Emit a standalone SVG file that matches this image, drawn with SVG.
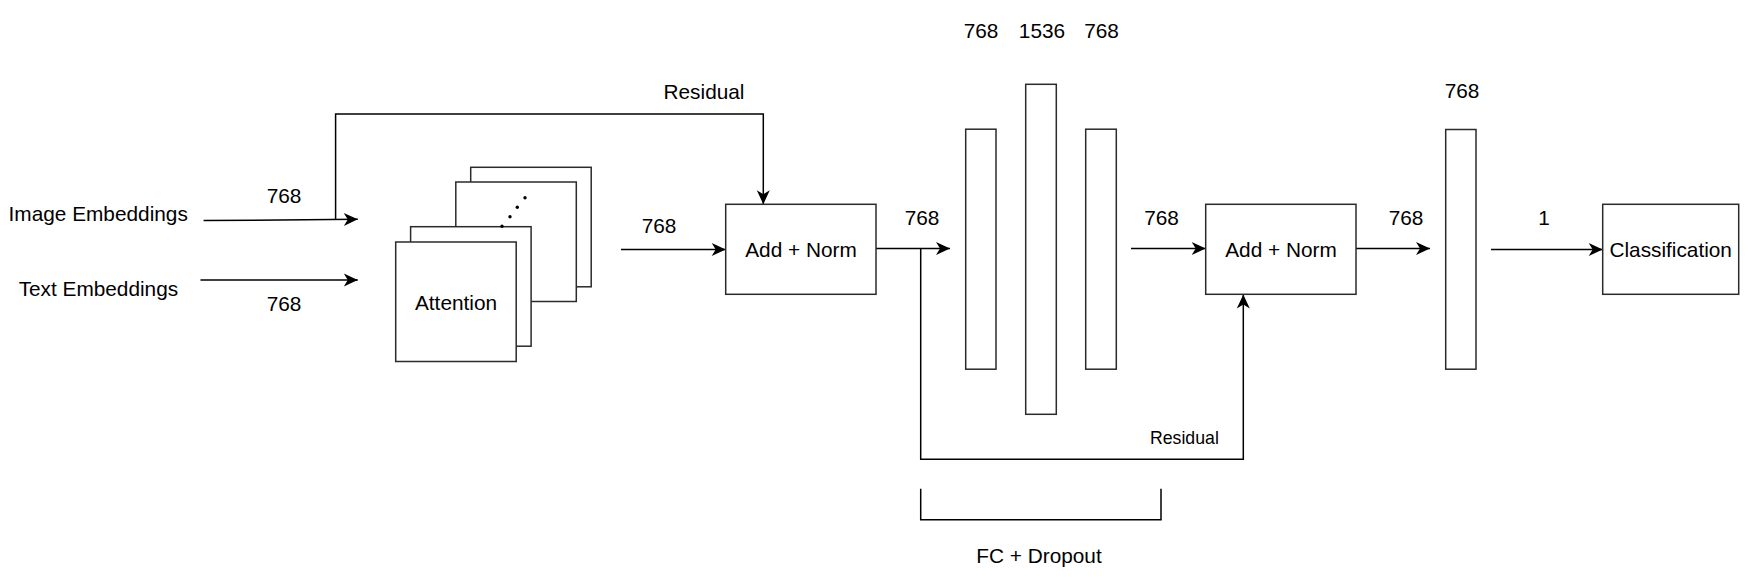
<svg xmlns="http://www.w3.org/2000/svg" width="1752" height="577" viewBox="0 0 1752 577">
<style>
text{font-family:"Liberation Sans",Arial,Helvetica,sans-serif;font-size:20.8px;fill:#000}
.c{text-anchor:middle}
.sm{font-size:17.7px}
.box{fill:#fff;stroke:#2b2b2b;stroke-width:1.5}
.ln{fill:none;stroke:#000;stroke-width:1.5}
.dot{fill:#000}
</style>
<defs>
<marker id="arr" viewBox="-16 -8 17 16" refX="0" refY="0" markerWidth="17" markerHeight="16" markerUnits="userSpaceOnUse" orient="auto">
<path d="M0,0 L-14,-6.5 L-10,0 L-14,6.5 Z" fill="#000"/>
</marker>
</defs>
<rect width="1752" height="577" fill="#fff"/>
<g id="connectors">
<path class="ln" d="M203.6 220.6 L357.8 219.3" marker-end="url(#arr)"/>
<path class="ln" d="M335.6 219.5 V114 H763.3 V204.3" marker-end="url(#arr)"/>
<path class="ln" d="M200.5 280 H357.8" marker-end="url(#arr)"/>
<path class="ln" d="M621 249.5 H725.7" marker-end="url(#arr)"/>
<path class="ln" d="M876 248.5 H950" marker-end="url(#arr)"/>
<path class="ln" d="M920.7 248.5 V459.3 H1243.3 V294.4" marker-end="url(#arr)"/>
<path class="ln" d="M1131 248.5 H1205.7" marker-end="url(#arr)"/>
<path class="ln" d="M1356 248.5 H1430" marker-end="url(#arr)"/>
<path class="ln" d="M1491 249.5 H1602.7" marker-end="url(#arr)"/>
</g>
<g id="image-embeddings"><text class="c" x="98.2" y="221">Image Embeddings</text></g>
<g id="text-embeddings"><text class="c" x="98.4" y="296">Text Embeddings</text></g>
<g id="labels">
<text class="c" x="284" y="203.3">768</text>
<text class="c" x="284" y="310.7">768</text>
<text class="c" x="704" y="98.6">Residual</text>
<text class="c" x="659" y="233">768</text>
<text class="c" x="922" y="225">768</text>
<text class="c" x="981" y="37.5">768</text>
<text class="c" x="1042" y="37.5">1536</text>
<text class="c" x="1101.5" y="37.5">768</text>
<text class="c" x="1161.5" y="225">768</text>
<text class="c sm" x="1184.4" y="443.5">Residual</text>
<text class="c" x="1406" y="225">768</text>
<text class="c" x="1462" y="97.5">768</text>
<text class="c" x="1544" y="225">1</text>
</g>
<g id="attention">
<rect class="box" x="470.7" y="167.3" width="120.5" height="119.5"/>
<rect class="box" x="455.8" y="182" width="120.5" height="119.5"/>
<rect class="box" x="410.6" y="226.7" width="120.5" height="119.5"/>
<rect class="box" x="395.7" y="242" width="120.5" height="119.5"/>
<circle class="dot" cx="525" cy="197.7" r="1.7"/>
<circle class="dot" cx="517.3" cy="207.3" r="1.7"/>
<circle class="dot" cx="510" cy="216.7" r="1.7"/>
<circle class="dot" cx="502" cy="226.2" r="1.7"/>
<text class="c" x="456" y="309.5">Attention</text>
</g>
<g id="add-norm-1">
<rect class="box" x="725.7" y="204.3" width="150.3" height="90"/>
<text class="c" x="801" y="257">Add + Norm</text>
</g>
<g id="fc-1"><rect class="box" x="965.7" y="129.2" width="30.3" height="240"/></g>
<g id="fc-2"><rect class="box" x="1025.7" y="84.3" width="30.6" height="330"/></g>
<g id="fc-3"><rect class="box" x="1085.7" y="129.2" width="30.6" height="240"/></g>
<g id="fc-dropout">
<path class="ln" d="M920.7 488.8 V519.7 H1161 V488.8" stroke="#2b2b2b"/>
<text class="c" x="1039" y="563">FC + Dropout</text>
</g>
<g id="add-norm-2">
<rect class="box" x="1205.7" y="204.3" width="150.3" height="90"/>
<text class="c" x="1281" y="257">Add + Norm</text>
</g>
<g id="fc-out"><rect class="box" x="1445.7" y="129.5" width="30.3" height="239.7"/></g>
<g id="classification">
<rect class="box" x="1602.7" y="204.3" width="136" height="90"/>
<text class="c" x="1670.7" y="257">Classification</text>
</g>
</svg>
